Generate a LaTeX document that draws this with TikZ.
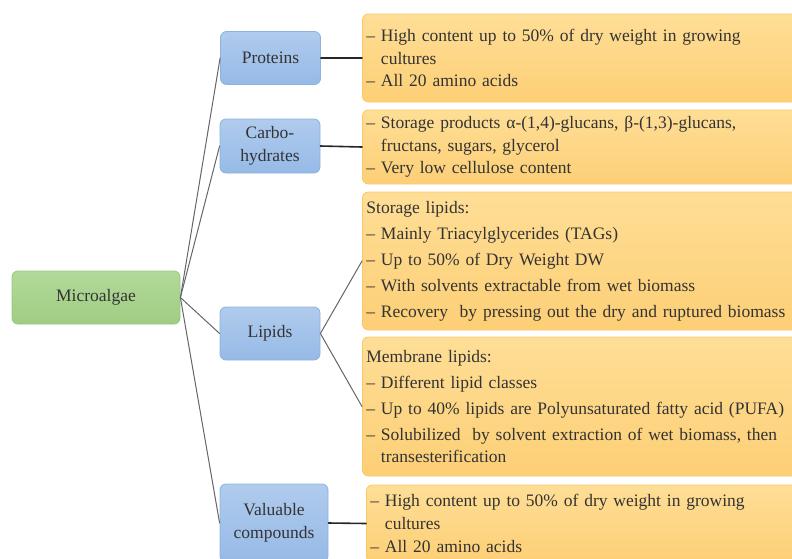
\documentclass[tikz,border=0pt]{standalone}
\usepackage{fontspec}
\setmainfont{Liberation Serif}
\definecolor{greentop}{RGB}{178,217,155}
\definecolor{greenbot}{RGB}{160,205,130}
\definecolor{greenline}{RGB}{150,200,125}
\definecolor{bluetop}{RGB}{176,203,237}
\definecolor{bluebot}{RGB}{150,186,230}
\definecolor{blueline}{RGB}{140,178,222}
\definecolor{orangetop}{RGB}{254,222,150}
\definecolor{orangebot}{RGB}{253,207,118}
\definecolor{orangeline}{RGB}{250,200,105}
\begin{document}
\begin{tikzpicture}[x=0.5pt,y=-0.5pt,line join=round,line cap=round,
    font=\fontsize{8.75}{11.3}\selectfont,
    base/.style={rounded corners=3pt,text=black!80,inner sep=0pt},
    root/.style={base,draw=greenline,top color=greentop,bottom color=greenbot,minimum width=84pt,minimum height=26.5pt},
    topic/.style={base,draw=blueline,top color=bluetop,bottom color=bluebot,minimum width=50pt,minimum height=26.5pt,align=center},
    info/.style={base,draw=orangeline,top color=orangetop,bottom color=orangebot,anchor=west,text width=222pt,inner xsep=2pt,align=left},
    twig/.style={black!60,line width=0.5pt},
    stem/.style={black!85,line width=0.8pt}]
    \useasboundingbox (0,0) rectangle (792,558);
    \clip (0,0) rectangle (792,558);
    % root and topics
    \node[root] (algae) at (96,297.5) {Microalgae};
    \node[topic] (prot) at (270.5,58) {Proteins};
    \node[topic,minimum height=27pt] (carb) at (270,146) {Carbo-\\hydrates};
    \node[topic] (lip) at (270,333.5) {Lipids};
    \node[topic,minimum width=54pt,minimum height=39pt] (val) at (274,523) {Valuable\\compounds};
    % details
    \node[info,minimum height=44pt] (protinfo) at (362,58) {– High content up to 50\% of dry weight in growing\\\phantom{– }cultures\\– All 20 amino acids};
    \node[info,minimum height=37pt] (carbinfo) at (362,147) {– Storage products α-(1,4)-glucans, β-(1,3)-glucans,\\\phantom{– }fructans, sugars, glycerol\\– Very low cellulose content};
    \node[info,minimum height=69pt] (storinfo) at (362,261) {Storage lipids:\\[1.7pt]– Mainly Triacylglycerides (TAGs)\\[1.7pt]– Up to 50\% of Dry Weight DW\\[1.7pt]– With solvents extractable from wet biomass\\[1.7pt]– Recovery\ \ by pressing out the dry and ruptured biomass};
    \node[info,minimum height=69.5pt] (membinfo) at (362,406.5) {Membrane lipids:\\[1.7pt]– Different lipid classes\\[1.7pt]– Up to 40\% lipids are Polyunsaturated fatty acid (PUFA)\\[1.7pt]– Solubilized\ \ by solvent extraction of wet biomass, then\\\phantom{– }transesterification};
    \node[info,minimum height=38.5pt] (valinfo) at (366,523.5) {– High content up to 50\% of dry weight in growing\\\phantom{– }cultures\\– All 20 amino acids};
    % connectors
    \foreach \t in {prot,carb,lip,val}
        \draw[twig] (algae.east) -- (\t.west);
    \draw[twig] (lip.east) -- (storinfo.west);
    \draw[twig] (lip.east) -- (membinfo.west);
    \draw[stem] (prot.east) -- (protinfo.west);
    \draw[stem] (carb.east) -- (carbinfo.west);
    \draw[stem] (val.east) -- (valinfo.west);
\end{tikzpicture}
\end{document}
